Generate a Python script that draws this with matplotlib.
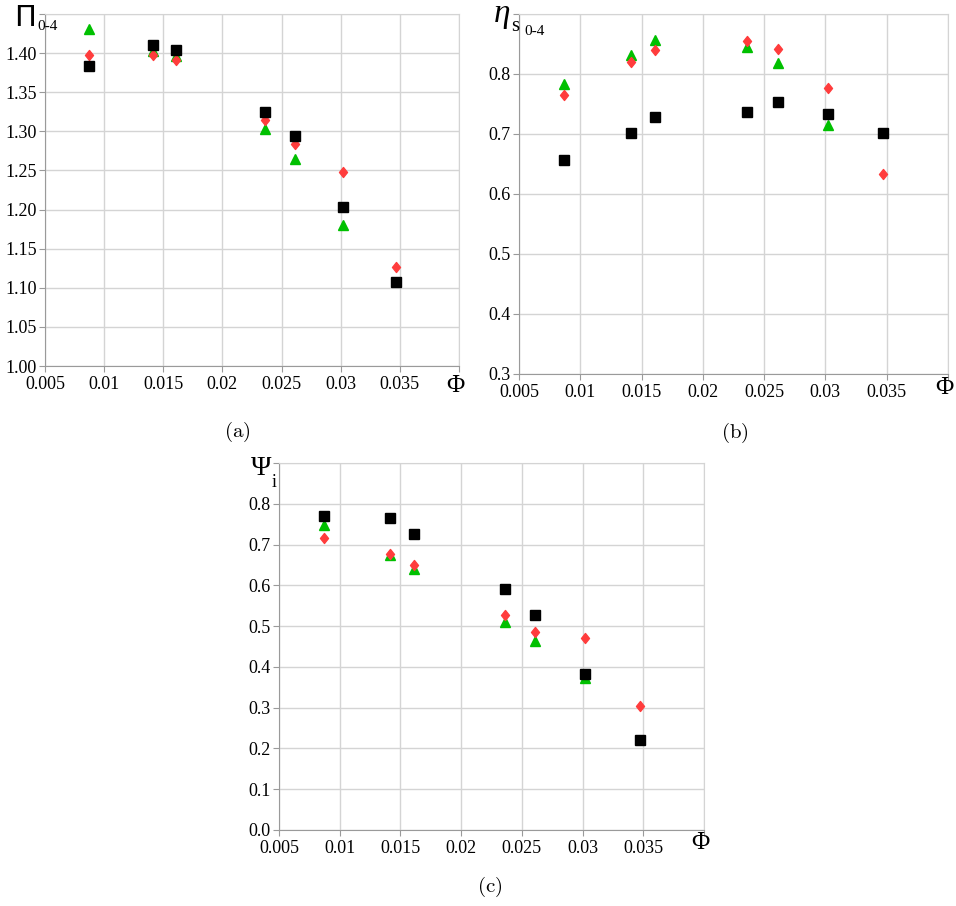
import numpy as np
import matplotlib
matplotlib.use("Agg")
import matplotlib.pyplot as plt
from matplotlib.path import Path

plt.rcParams["font.family"] = ["Liberation Serif", "DejaVu Serif"]
plt.rcParams["mathtext.fontset"] = "cm"

# Dados
phi = [0.0087, 0.0141, 0.0161, 0.0236, 0.0261, 0.0302, 0.0347]
phi_tri = phi[:6]

# (a) Pi 0-4
pi_tri = [1.431, 1.403, 1.396, 1.303, 1.264, 1.180]
pi_dia = [1.398, 1.397, 1.391, 1.315, 1.284, 1.248, 1.127]
pi_sq = [1.384, 1.411, 1.404, 1.325, 1.294, 1.203, 1.108]

# (b) eta s 0-4
eta_tri = [0.783, 0.832, 0.856, 0.845, 0.819, 0.715]
eta_dia = [0.765, 0.820, 0.840, 0.855, 0.842, 0.777, 0.634]
eta_sq = [0.656, 0.701, 0.729, 0.737, 0.753, 0.734, 0.701]

# (c) Psi i
psi_tri = [0.748, 0.674, 0.641, 0.511, 0.464, 0.373]
psi_dia = [0.717, 0.677, 0.649, 0.528, 0.485, 0.471, 0.304]
psi_sq = [0.771, 0.766, 0.725, 0.591, 0.527, 0.383, 0.221]

x_ticks = [0.005, 0.01, 0.015, 0.02, 0.025, 0.03, 0.035, 0.04]
x_labels = ["0.005", "0.01", "0.015", "0.02", "0.025", "0.03", "0.035", ""]

verde = "#00c000"
vermelho = "#ff3c3c"
grade = "#d4d4d4"

losango = Path([(0, 1), (0.8, 0), (0, -1), (-0.8, 0), (0, 1)],
               [Path.MOVETO, Path.LINETO, Path.LINETO, Path.LINETO, Path.CLOSEPOLY])

W, H = 956, 906
fig = plt.figure(figsize=(W / 100, H / 100), dpi=100)


def eixo(px_left, px_top, px_right, px_bottom):
    return fig.add_axes([px_left / W, 1 - px_bottom / H,
                         (px_right - px_left) / W, (px_bottom - px_top) / H])


def desenha(ax, tri, dia, sq, ylim, ystep, yfmt):
    ax.plot(phi_tri, tri, "^", color=verde, ms=6.8, mec=verde, zorder=3)
    ax.plot(phi, dia, marker=losango, ls="none", color=vermelho, ms=7.2, mec=vermelho, zorder=4)
    ax.plot(phi, sq, "s", color="black", ms=7.0, zorder=5)
    ax.set_xlim(0.005, 0.04)
    ax.set_ylim(*ylim)
    ax.set_xticks(x_ticks)
    ax.set_xticklabels(x_labels)
    yt = np.arange(ylim[0], ylim[1] + ystep / 2, ystep)
    ax.set_yticks(yt)
    ax.set_yticklabels([yfmt.format(v) for v in yt[:-1]] + [""])
    ax.grid(True, color=grade, linewidth=1.0)
    ax.set_axisbelow(True)
    for s in ["top", "right"]:
        ax.spines[s].set_color(grade)
    for s in ["left", "bottom"]:
        ax.spines[s].set_color("#9a9a9a")
    ax.tick_params(axis="both", colors="#9a9a9a", length=4, labelcolor="black",
                   labelsize=13)
    ax.tick_params(axis="x", pad=3)
    ax.tick_params(axis="y", pad=2)


# (a)
ax1 = eixo(45, 14, 459, 366)
desenha(ax1, pi_tri, pi_dia, pi_sq, (1.0, 1.45), 0.05, "{:.2f}")
fig.text(14 / W, 1 - 26 / H, "Π", fontsize=21, family="DejaVu Sans", va="baseline")
fig.text(37 / W, 1 - 30 / H, "0-4", fontsize=11, va="baseline")
fig.text(455 / W, 1 - 386 / H, "Φ", fontsize=18, ha="center", va="center")
fig.text(237 / W, 1 - 432 / H, r"$\mathrm{(a)}$", fontsize=15, ha="center", va="center")

# (b)
ax2 = eixo(519, 14, 948, 374)
desenha(ax2, eta_tri, eta_dia, eta_sq, (0.3, 0.9), 0.1, "{:.1f}")
fig.text(494 / W, 1 - 22 / H, "η", fontsize=24, style="italic", va="baseline")
fig.text(511 / W, 1 - 31 / H, "s", fontsize=15, va="baseline")
fig.text(524 / W, 1 - 35 / H, "0-4", fontsize=11, va="baseline")
fig.text(944 / W, 1 - 388 / H, "Φ", fontsize=18, ha="center", va="center")
fig.text(735 / W, 1 - 433 / H, r"$\mathrm{(b)}$", fontsize=15, ha="center", va="center")

# (c)
ax3 = eixo(279, 463, 704, 830)
desenha(ax3, psi_tri, psi_dia, psi_sq, (0.0, 0.9), 0.1, "{:.1f}")
fig.text(251 / W, 1 - 475 / H, "Ψ", fontsize=20, va="baseline")
fig.text(272 / W, 1 - 487 / H, "i", fontsize=13, va="baseline")
fig.text(700 / W, 1 - 843 / H, "Φ", fontsize=18, ha="center", va="center")
fig.text(490 / W, 1 - 887 / H, r"$\mathrm{(c)}$", fontsize=15, ha="center", va="center")

fig.savefig("out.png", dpi=100)
